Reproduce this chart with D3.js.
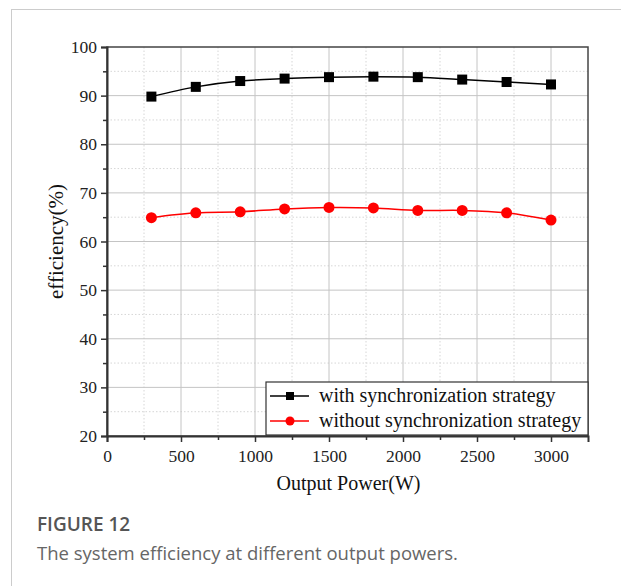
<!DOCTYPE html>
<html>
<head>
<meta charset="utf-8">
<script src="https://cdn.jsdelivr.net/npm/d3@7"></script>
<style>
  body { margin: 0; background: #fff; }
  svg { display: block; }
</style>
</head>
<body>
<svg id="chart" width="621" height="586"></svg>
<script>
const power = [300, 600, 900, 1200, 1500, 1800, 2100, 2400, 2700, 3000];
const withSync = [89.8, 91.8, 93.0, 93.5, 93.8, 93.9, 93.8, 93.3, 92.8, 92.3];
const withoutSync = [64.9, 65.9, 66.1, 66.7, 67.0, 66.9, 66.4, 66.4, 65.9, 64.4];
const xTicks = [0, 500, 1000, 1500, 2000, 2500, 3000];
const yTicks = [20, 30, 40, 50, 60, 70, 80, 90, 100];
const seriesNames = ["with synchronization strategy", "without synchronization strategy"];

const svg = d3.select("#chart");
const pLeft = 107, pRight = 588, pTop = 47, pBottom = 436;
const serif = "'Liberation Serif', 'Times New Roman', serif";

// card frame
svg.append("line").attr("x1", 11).attr("x2", 621).attr("y1", 9.5).attr("y2", 9.5)
    .attr("stroke", "#ccc");
svg.append("line").attr("x1", 11.5).attr("x2", 11.5).attr("y1", 9.5).attr("y2", 586)
    .attr("stroke", "#ccc");

const x = d3.scaleLinear().domain([0, 3250]).range([pLeft, pRight]);
const y = d3.scaleLinear().domain([20, 100]).range([pBottom, pTop]);

const g = svg.append("g");

// minor grid (dotted)
g.selectAll(".vminor").data(d3.range(250, 3250, 500)).enter().append("line")
    .attr("x1", d => x(d)).attr("x2", d => x(d)).attr("y1", pTop).attr("y2", pBottom)
    .attr("stroke", "#d6d6d6").attr("stroke-dasharray", "1.5,2");
g.selectAll(".hminor").data(d3.range(25, 100, 10)).enter().append("line")
    .attr("x1", pLeft).attr("x2", pRight).attr("y1", d => y(d)).attr("y2", d => y(d))
    .attr("stroke", "#d6d6d6").attr("stroke-dasharray", "1.5,2");

// major grid
g.selectAll(".vmajor").data(xTicks.slice(1)).enter().append("line")
    .attr("x1", d => x(d)).attr("x2", d => x(d)).attr("y1", pTop).attr("y2", pBottom)
    .attr("stroke", "#c4c4c4");
g.selectAll(".hmajor").data(yTicks.slice(1, -1)).enter().append("line")
    .attr("x1", pLeft).attr("x2", pRight).attr("y1", d => y(d)).attr("y2", d => y(d))
    .attr("stroke", "#c4c4c4");

// frame of plot
svg.append("rect").attr("x", pLeft).attr("y", pTop)
    .attr("width", pRight - pLeft).attr("height", pBottom - pTop)
    .attr("fill", "none").attr("stroke", "#444").attr("stroke-width", 1.5);

// axes
const axisGroups = [];
axisGroups.push(svg.append("g").attr("transform", `translate(0,${pBottom})`)
    .call(d3.axisBottom(x).tickValues(xTicks).tickSize(6).tickPadding(8).tickFormat(d3.format("d"))));
svg.append("g").attr("transform", `translate(0,${pBottom})`)
    .call(d3.axisBottom(x).tickValues(d3.range(250, 3250, 500)).tickSize(4).tickFormat(""))
    .select(".domain").remove();
axisGroups.push(svg.append("g").attr("transform", `translate(${pLeft},0)`)
    .call(d3.axisLeft(y).tickValues(yTicks).tickSize(6).tickPadding(4)));
svg.append("g").attr("transform", `translate(${pLeft},0)`)
    .call(d3.axisLeft(y).tickValues(d3.range(25, 100, 10)).tickSize(4).tickFormat(""))
    .select(".domain").remove();

svg.selectAll(".domain").attr("stroke", "#333").attr("stroke-width", 2);
svg.selectAll(".tick line").attr("stroke", "#333").attr("stroke-width", 1.5);
axisGroups.forEach(a => a.attr("font-family", serif).attr("font-size", 17.5));
svg.selectAll(".tick text").style("font-family", serif).style("font-size", "17.5px").attr("fill", "#222");

// axis titles
svg.append("text").attr("x", (pLeft + pRight) / 2 + 1).attr("y", 490)
    .attr("text-anchor", "middle").attr("font-family", serif).attr("font-size", 20)
    .attr("fill", "#111").text("Output Power(W)");
svg.append("text").attr("transform", `translate(63,${(pTop + pBottom) / 2}) rotate(-90)`)
    .attr("text-anchor", "middle").attr("font-family", serif).attr("font-size", 21)
    .attr("fill", "#111").text("efficiency(%)");

// lines
const series = [
    { name: seriesNames[0], values: withSync, color: "#000", shape: "square" },
    { name: seriesNames[1], values: withoutSync, color: "#f00", shape: "circle" }
];
const line = d3.line().x(d => x(d[0])).y(d => y(d[1])).curve(d3.curveCatmullRom);

series.forEach(s => {
    const pts = power.map((p, i) => [p, s.values[i]]);
    svg.append("path").datum(pts).attr("d", line)
        .attr("fill", "none").attr("stroke", s.color).attr("stroke-width", 1.5);
    if (s.shape === "square") {
        svg.selectAll(null).data(pts).enter().append("rect")
            .attr("x", d => x(d[0]) - 5).attr("y", d => y(d[1]) - 5)
            .attr("width", 10).attr("height", 10).attr("fill", s.color);
    } else {
        svg.selectAll(null).data(pts).enter().append("circle")
            .attr("cx", d => x(d[0])).attr("cy", d => y(d[1])).attr("r", 5.5)
            .attr("fill", s.color);
    }
});

// legend
const lg = svg.append("g");
lg.append("rect").attr("x", 266).attr("y", 382).attr("width", pRight - 266).attr("height", 53)
    .attr("fill", "#fff").attr("stroke", "#333").attr("stroke-width", 1.2);
series.forEach((s, i) => {
    const cy = 396 + i * 25;
    lg.append("line").attr("x1", 270).attr("x2", 309).attr("y1", cy).attr("y2", cy)
        .attr("stroke", s.color).attr("stroke-width", 1.5);
    if (s.shape === "square") {
        lg.append("rect").attr("x", 286).attr("y", cy - 4).attr("width", 8).attr("height", 8).attr("fill", s.color);
    } else {
        lg.append("circle").attr("cx", 290).attr("cy", cy).attr("r", 4.5).attr("fill", s.color);
    }
    lg.append("text").attr("x", 319).attr("y", cy + 6).attr("font-family", serif)
        .attr("font-size", 20).attr("fill", "#111").text(s.name);
});

// caption
svg.append("text").attr("x", 37).attr("y", 531).attr("font-family", "'Open Sans', sans-serif")
    .attr("font-size", 19).attr("font-weight", 600).attr("fill", "#555").text("FIGURE 12");
svg.append("text").attr("x", 37).attr("y", 560).attr("font-family", "'Open Sans', sans-serif")
    .attr("font-size", 18.5).attr("fill", "#666").text("The system efficiency at different output powers.");
</script>
</body>
</html>
